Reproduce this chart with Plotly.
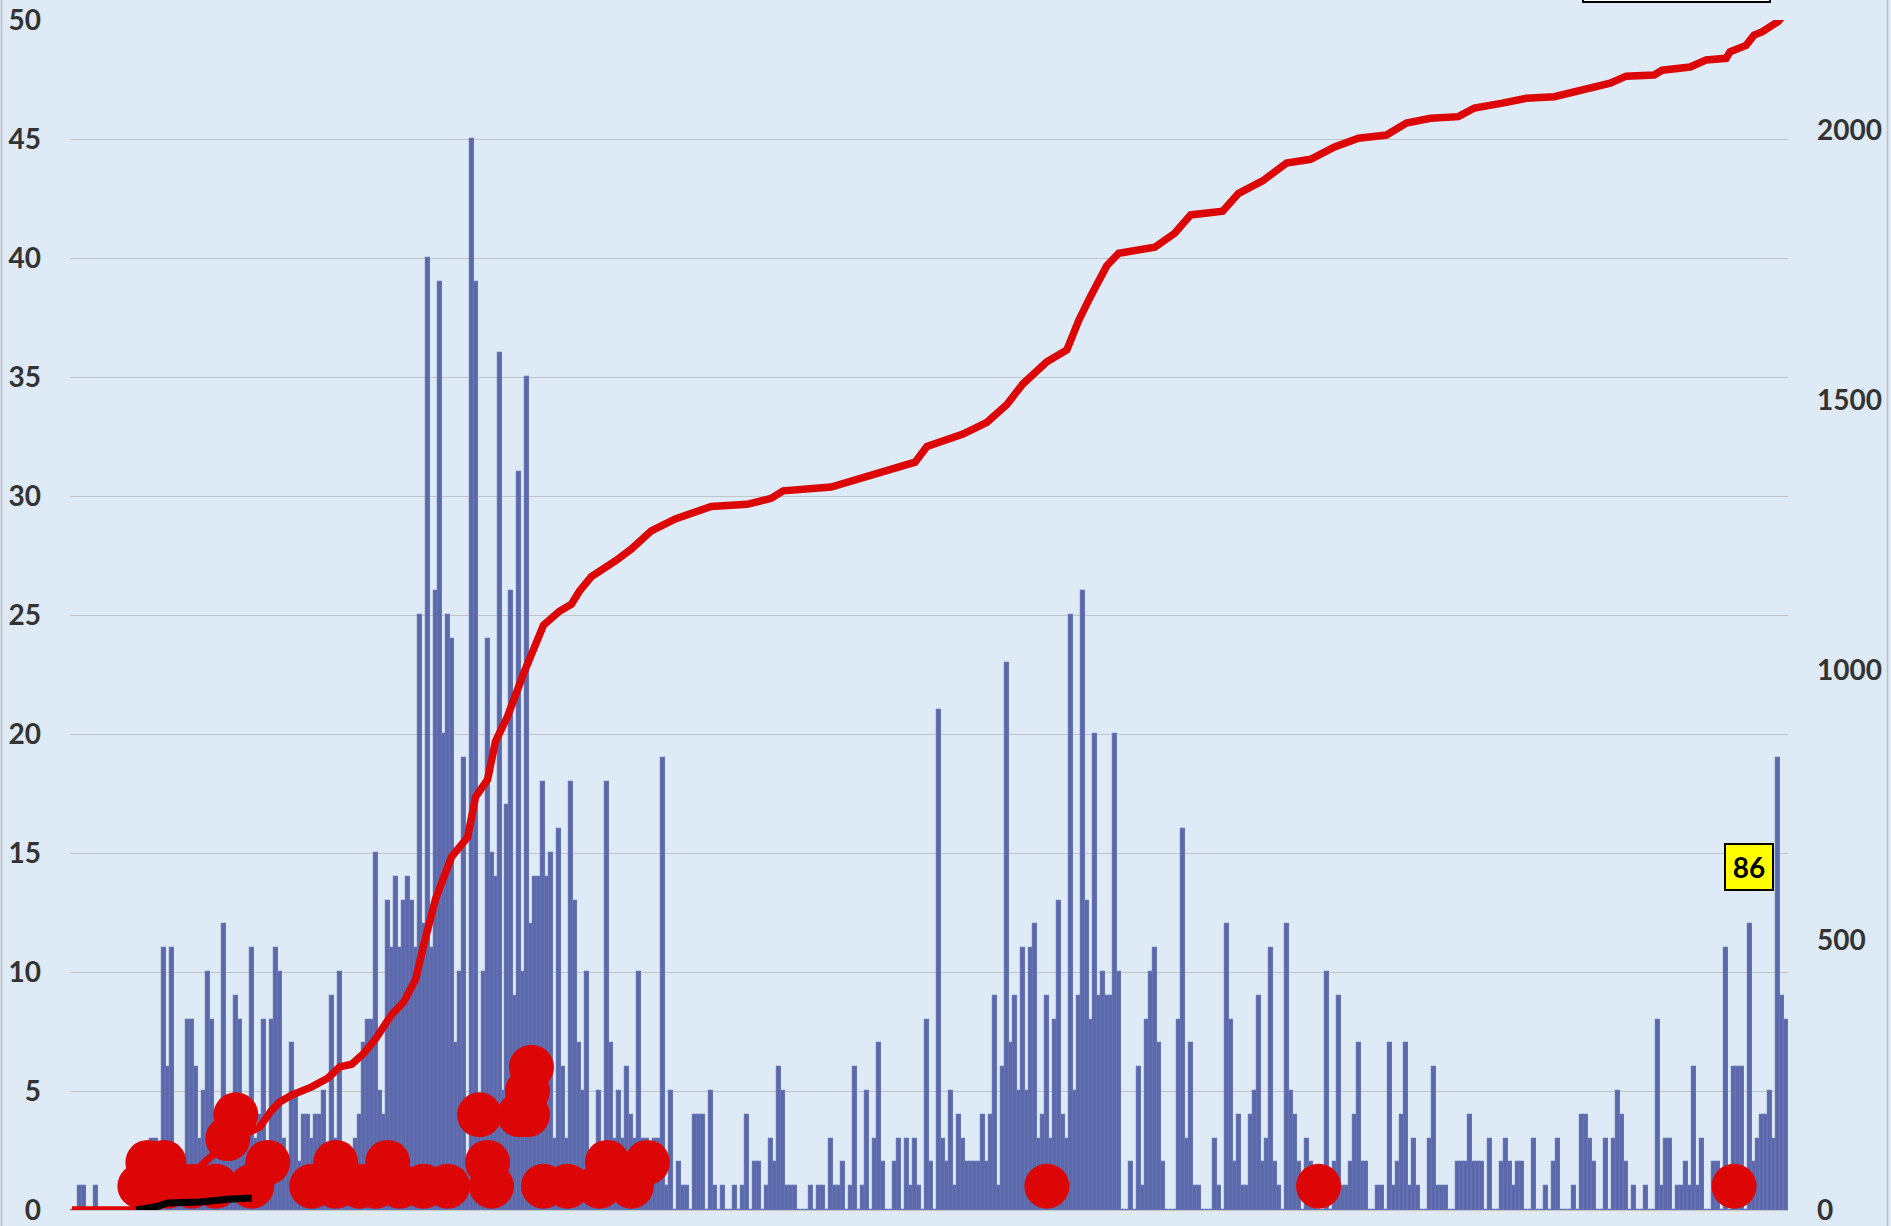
import plotly.graph_objects as go

# ---------------- data ----------------
# daily bar values, one per day (index 0 .. 429)
daily = [
    0, 0, 1, 1, 0, 0, 1, 0, 0, 0,
    0, 0, 0, 0, 0, 0, 0, 0, 0, 0,
    3, 3, 1, 11, 6, 11, 2, 2, 1, 8,
    8, 6, 3, 5, 10, 8, 3, 4, 12, 3,
    4, 9, 8, 3, 4, 11, 3, 4, 8, 2,
    8, 11, 10, 3, 2, 7, 5, 2, 4, 4,
    3, 4, 4, 5, 2, 9, 3, 10, 2, 2,
    1, 3, 4, 7, 8, 8, 15, 5, 4, 13,
    11, 14, 11, 13, 14, 13, 11, 25, 12, 40,
    11, 26, 39, 20, 25, 24, 7, 10, 19, 2,
    45, 39, 4, 10, 24, 15, 14, 36, 5, 17,
    26, 9, 31, 10, 35, 12, 14, 14, 18, 14,
    15, 3, 16, 6, 3, 18, 13, 7, 5, 10,
    2, 2, 5, 2, 18, 7, 3, 5, 3, 6,
    4, 3, 10, 3, 3, 2, 3, 3, 19, 1,
    5, 0, 2, 1, 1, 0, 4, 4, 4, 0,
    5, 1, 0, 1, 0, 0, 1, 0, 1, 4,
    0, 2, 2, 0, 1, 3, 2, 6, 5, 1,
    1, 1, 0, 0, 0, 1, 0, 1, 1, 0,
    3, 1, 1, 2, 0, 1, 6, 0, 1, 5,
    0, 3, 7, 2, 0, 0, 2, 3, 0, 3,
    1, 3, 1, 0, 8, 2, 0, 21, 3, 2,
    5, 1, 4, 3, 2, 2, 2, 2, 4, 2,
    4, 9, 1, 6, 23, 7, 9, 5, 11, 5,
    11, 12, 3, 4, 9, 3, 8, 13, 4, 3,
    25, 5, 9, 26, 13, 8, 20, 9, 10, 9,
    9, 20, 10, 0, 0, 2, 0, 6, 1, 8,
    10, 11, 7, 2, 0, 0, 0, 8, 16, 3,
    7, 1, 1, 0, 0, 0, 3, 1, 0, 12,
    8, 2, 4, 1, 1, 4, 5, 9, 2, 3,
    11, 2, 1, 0, 12, 5, 4, 2, 0, 3,
    2, 1, 0, 0, 10, 0, 2, 9, 1, 1,
    2, 4, 7, 2, 2, 0, 0, 1, 1, 0,
    7, 1, 2, 4, 7, 1, 3, 1, 0, 0,
    3, 6, 1, 1, 1, 0, 0, 2, 2, 2,
    4, 2, 2, 2, 0, 3, 0, 0, 2, 3,
    2, 1, 2, 2, 0, 0, 3, 0, 0, 1,
    0, 2, 3, 0, 0, 0, 1, 0, 4, 4,
    3, 2, 0, 0, 3, 0, 3, 5, 4, 2,
    0, 1, 0, 0, 1, 0, 0, 8, 1, 3,
    3, 0, 1, 1, 2, 1, 6, 1, 3, 0,
    0, 2, 2, 0, 11, 0, 6, 6, 6, 0,
    12, 2, 3, 4, 4, 5, 3, 19, 9, 8,
]
days = list(range(len(daily)))

# cumulative red line (right axis), read at these day indices
cum_day = [0, 20, 22, 25, 28, 32, 35, 40, 44, 47, 50, 52, 55, 60, 64, 67, 70, 73, 76, 80,
           83, 86, 88, 91, 95, 99, 101, 104, 106, 109, 113, 118, 122, 125, 127, 130, 136, 140, 145, 151,
           160, 169, 175, 178, 190, 199, 211, 214, 223, 229, 234, 238, 244, 249, 252, 255, 259, 262, 271, 276,
           280, 288, 292, 298, 304, 310, 316, 322, 329, 334, 340, 347, 351, 358, 364, 371, 379, 385, 389, 396,
           398, 405, 409, 414, 415, 419, 421, 423, 427, 429]
cum_val = [0, 0, 8, 35, 42, 80, 100, 128, 143, 154, 185, 200, 213, 228, 244, 265, 270, 290, 317, 362,
           385, 427, 490, 576, 654, 690, 765, 797, 868, 914, 993, 1083, 1109, 1122, 1146, 1173, 1202, 1224, 1258, 1280,
           1303, 1307, 1318, 1332, 1339, 1359, 1385, 1414, 1437, 1459, 1492, 1530, 1571, 1593, 1648, 1693, 1749, 1772, 1783, 1809,
           1843, 1850, 1883, 1906, 1939, 1946, 1969, 1985, 1991, 2013, 2022, 2025, 2041, 2050, 2059, 2062, 2078, 2087, 2100, 2102,
           2111, 2117, 2130, 2133, 2145, 2157, 2176, 2182, 2201, 2218]

# red dots (left axis)
dot_day = [17, 19, 23, 24, 30, 36, 39, 41, 45, 49,
           60, 66, 66, 72, 76, 79, 82, 88, 94,
           102, 104, 105, 112, 114, 114, 115, 118, 124, 132, 134, 140, 144,
           244, 312, 416]
dot_val = [1, 2, 2, 1, 1, 1, 3, 4, 1, 2,
           1, 1, 2, 1, 1, 2, 1, 1, 1,
           4, 2, 1, 4, 4, 5, 6, 1, 1, 1, 2, 1, 2,
           1, 1, 1]

# black line (right axis)
black_day = [16, 21, 24, 32, 39, 42, 45]
black_val = [0, 6, 13, 15, 20, 22, 22]

left_ticks = [0, 5, 10, 15, 20, 25, 30, 35, 40, 45, 50]
right_ticks = [0, 500, 1000, 1500, 2000]
label_86 = "86"

# ---------------- styling ----------------
BG = "#DEEAF6"
BAR = "#5B69AB"
BAR_EDGE = "#6673B3"
RED = "#DD0606"
GRID = "#C0C3C8"
TXT = "#333333"
FONT = "Lato, 'Open Sans', sans-serif"

W, H = 1891, 1226
L, R, T, B = 70, 103, 20, 16
PW = W - L - R
PH = H - T - B


def px_x(px):
    return (px - L) / PW


def px_y(py):
    return (H - B - py) / PH


fig = go.Figure()
fig.add_trace(go.Bar(x=days, y=daily, marker=dict(color=BAR, line=dict(width=1.2, color=BAR_EDGE)),
                     yaxis="y", hoverinfo="skip"))
fig.add_trace(go.Scatter(x=dot_day, y=dot_val, mode="markers",
                         marker=dict(color=RED, size=45, line=dict(width=0)), yaxis="y"))
fig.add_trace(go.Scatter(x=cum_day, y=cum_val, mode="lines",
                         line=dict(color=RED, width=7.5), yaxis="y2"))
fig.add_trace(go.Scatter(x=black_day, y=black_val, mode="lines",
                         line=dict(color="black", width=7), yaxis="y2"))

tickfont = dict(family=FONT, size=28, color=TXT)

fig.update_layout(
    width=W, height=H,
    margin=dict(l=L, r=R, t=T, b=B, pad=0, autoexpand=False),
    paper_bgcolor=BG, plot_bgcolor=BG,
    showlegend=False,
    bargap=0,
    xaxis=dict(range=[-0.5, len(daily) - 0.5], showticklabels=False, showgrid=False,
               zeroline=False, showline=False, ticks="", automargin=False),
    yaxis=dict(range=[0, 50], tickmode="array", tickvals=left_ticks,
               ticktext=["<b>%d</b>" % v for v in left_ticks],
               showgrid=True, gridcolor=GRID, gridwidth=1,
               zeroline=True, zerolinecolor=GRID, zerolinewidth=1,
               tickfont=tickfont, ticks="", ticklabelstandoff=28, showline=False,
               automargin=False),
    yaxis2=dict(range=[0, 2204], tickmode="array", tickvals=right_ticks,
                ticktext=["<b>%d</b>" % v for v in right_ticks],
                overlaying="y", side="right",
                showgrid=False, zeroline=False, tickfont=tickfont, ticks="",
                ticklabelstandoff=28, showline=False, automargin=False),
    annotations=[dict(text="<b>" + label_86 + "</b>", xref="paper", yref="paper",
                      x=px_x(1748.5), y=px_y(866.7), xanchor="center", yanchor="middle",
                      showarrow=False, font=dict(family=FONT, size=28, color="black"),
                      bgcolor="#FFFF00", bordercolor="black", borderwidth=2, borderpad=1,
                      width=44, height=42)],
    shapes=[
        dict(type="rect", xref="paper", yref="paper", x0=px_x(1583), x1=px_x(1770),
             y0=px_y(2), y1=px_y(-12), fillcolor="white", line=dict(color="black", width=2)),
        dict(type="line", xref="paper", yref="paper", x0=px_x(1.5), x1=px_x(1.5),
             y0=px_y(H + 5), y1=px_y(-5), line=dict(color="#BFBFBF", width=1.5)),
        dict(type="line", xref="paper", yref="paper", x0=px_x(1887.5), x1=px_x(1887.5),
             y0=px_y(H + 5), y1=px_y(-5), line=dict(color="#BFBFBF", width=1.5)),
    ],
)

fig.write_html(
    "out.html",
    config={"displayModeBar": False},
    post_script="document.body.style.margin='0';document.body.style.background='%s';" % BG,
)
